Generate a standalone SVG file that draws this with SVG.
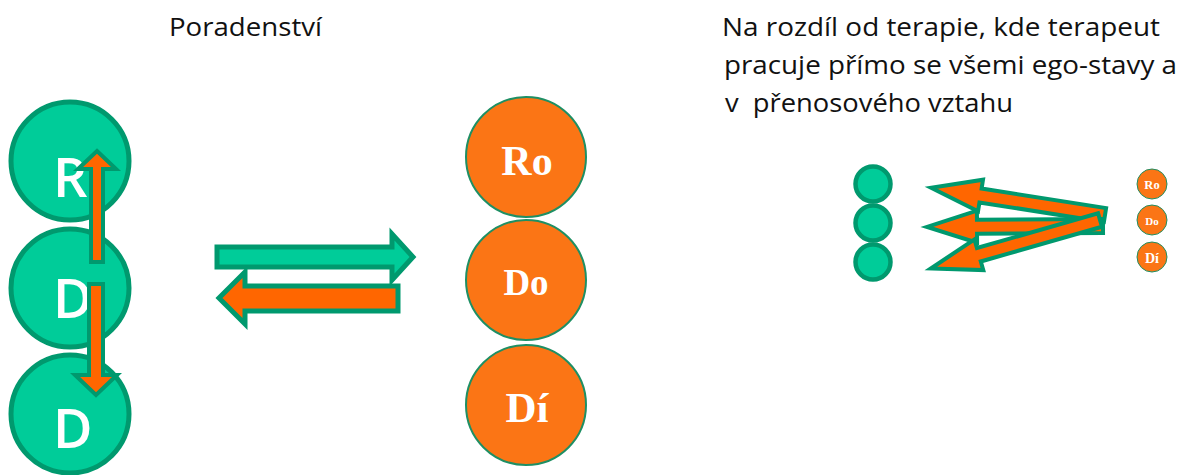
<svg xmlns="http://www.w3.org/2000/svg" xmlns:xlink="http://www.w3.org/1999/xlink" width="1178" height="475" viewBox="0 0 1178 475">
<style>
.title{font-family:"Open Sans","Liberation Sans",sans-serif;font-size:25px;fill:#111}
.gc{fill:#00CC99;stroke:#00996E;stroke-width:5}
.gcs{fill:#00CC99;stroke:#00996E;stroke-width:4.5}
.oc{fill:#FB7515;stroke:#1E8F64;stroke-width:2}
.ocs{fill:#FB7515;stroke:#1E8F64;stroke-width:1}
.gl{font-family:"Open Sans","Liberation Sans",sans-serif;font-size:54px;font-weight:600;fill:#fff}
.ol{font-family:"Liberation Serif","DejaVu Serif",serif;font-weight:bold;fill:#fff;text-anchor:middle}
.oa{fill:#FF6600;stroke:#00996E;stroke-width:4;stroke-linejoin:miter}
.ga{fill:#00CC99;stroke:#00996E;stroke-width:5}
.ob{fill:#FF6600;stroke:#00996E;stroke-width:5}
</style>
<defs>
<path id="fan" d="M0,-7 L126,-7 L126,-16 L176,0 L126,16 L126,7 L0,7 Z"/>
</defs>
<rect width="1178" height="475" fill="#fff"/>
<g id="titles">
<text class="title" x="169" y="36" textLength="153" lengthAdjust="spacingAndGlyphs">Poradenství</text>
<text class="title" x="722" y="36" textLength="438" lengthAdjust="spacingAndGlyphs">Na rozdíl od terapie, kde terapeut</text>
<text class="title" x="724" y="74" textLength="453" lengthAdjust="spacingAndGlyphs">pracuje přímo se všemi ego-stavy a</text>
<text class="title" x="725" y="112" textLength="288" lengthAdjust="spacingAndGlyphs" xml:space="preserve">v  přenosového vztahu</text>
</g>
<g id="client-left">
<g id="cl-r"><circle class="gc" cx="70" cy="161" r="59"/><text class="gl" x="53" y="197">R</text></g>
<g id="cl-d1"><circle class="gc" cx="70" cy="288" r="59"/><text class="gl" x="53" y="318">D</text></g>
<g id="cl-d2"><circle class="gc" cx="70" cy="414" r="59"/><text class="gl" x="53" y="448">D</text></g>
</g>
<g id="counselor">
<g id="co-ro"><circle class="oc" cx="526" cy="157" r="60"/><text class="ol" x="527" y="175" font-size="42">Ro</text></g>
<g id="co-do"><circle class="oc" cx="526" cy="280" r="60"/><text class="ol" x="526" y="295" font-size="37">Do</text></g>
<g id="co-di"><circle class="oc" cx="526" cy="405" r="60"/><text class="ol" x="527" y="422" font-size="43">Dí</text></g>
</g>
<g id="client-right">
<circle class="gcs" cx="873" cy="184" r="17.5"/>
<circle class="gcs" cx="873" cy="223" r="17.5"/>
<circle class="gcs" cx="873" cy="262" r="17.5"/>
</g>
<g id="therapist">
<g id="th-ro"><circle class="ocs" cx="1152" cy="184" r="15"/><text class="ol" x="1152" y="189" font-size="12.5">Ro</text></g>
<g id="th-do"><circle class="ocs" cx="1152" cy="220" r="15"/><text class="ol" x="1152" y="225" font-size="11">Do</text></g>
<g id="th-di"><circle class="ocs" cx="1152" cy="257" r="15"/><text class="ol" x="1152" y="263" font-size="14">Dí</text></g>
</g>
<g id="connectors">
<path class="oa" d="M97,151 L116,169 L103,169 L103,262 L91,262 L91,169 L78,169 Z"/>
<path class="oa" d="M89,284 L103,284 L103,375 L117,375 L96,395 L75,375 L89,375 Z"/>
<path class="ga" d="M217,247 L392,247 L392,234 L413,257 L392,280 L392,267 L217,267 Z"/>
<path class="ob" d="M398,286 L398,311 L245,311 L245,324 L219,298 L245,272 L245,286 Z"/>
<use class="oa" xlink:href="#fan" transform="translate(1105,215) rotate(-171.1)"/>
<use class="oa" xlink:href="#fan" transform="translate(1103,226) rotate(179.7)"/>
<use class="oa" xlink:href="#fan" transform="translate(1100,220) rotate(164)"/>
</g>
</svg>
